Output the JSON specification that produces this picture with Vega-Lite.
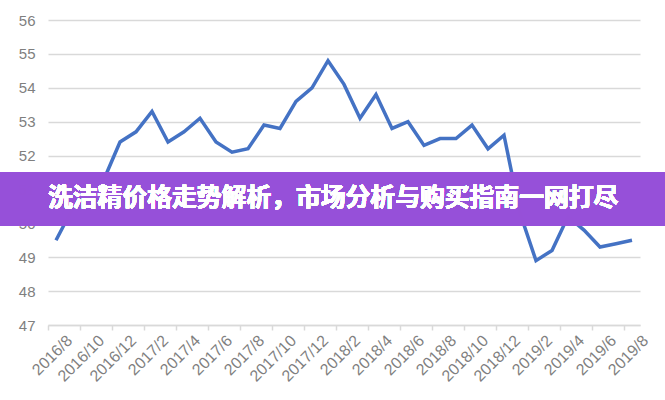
{
  "$schema": "https://vega.github.io/schema/vega-lite/v6.json",
  "width": 592,
  "height": 305,
  "autosize": "none",
  "padding": {"left": 48, "top": 20, "right": 25, "bottom": 75},
  "background": "white",
  "config": {"view": {"stroke": null}, "font": "Liberation Sans"},
  "data": {"values": [
    {"month": "2016/8", "price": 49.5},
    {"month": "2016/9", "price": 50.4},
    {"month": "2016/10", "price": 51.35},
    {"month": "2016/11", "price": 51.3},
    {"month": "2016/12", "price": 52.4},
    {"month": "2017/1", "price": 52.7},
    {"month": "2017/2", "price": 53.3},
    {"month": "2017/3", "price": 52.4},
    {"month": "2017/4", "price": 52.7},
    {"month": "2017/5", "price": 53.1},
    {"month": "2017/6", "price": 52.4},
    {"month": "2017/7", "price": 52.1},
    {"month": "2017/8", "price": 52.2},
    {"month": "2017/9", "price": 52.9},
    {"month": "2017/10", "price": 52.8},
    {"month": "2017/11", "price": 53.6},
    {"month": "2017/12", "price": 54.0},
    {"month": "2018/1", "price": 54.8},
    {"month": "2018/2", "price": 54.1},
    {"month": "2018/3", "price": 53.1},
    {"month": "2018/4", "price": 53.8},
    {"month": "2018/5", "price": 52.8},
    {"month": "2018/6", "price": 53.0},
    {"month": "2018/7", "price": 52.3},
    {"month": "2018/8", "price": 52.5},
    {"month": "2018/9", "price": 52.5},
    {"month": "2018/10", "price": 52.9},
    {"month": "2018/11", "price": 52.2},
    {"month": "2018/12", "price": 52.6},
    {"month": "2019/1", "price": 50.3},
    {"month": "2019/2", "price": 48.9},
    {"month": "2019/3", "price": 49.2},
    {"month": "2019/4", "price": 50.2},
    {"month": "2019/5", "price": 49.8},
    {"month": "2019/6", "price": 49.3},
    {"month": "2019/7", "price": 49.4},
    {"month": "2019/8", "price": 49.5}
  ]},
  "layer": [
    {
      "mark": {"type": "line", "color": "#4472c4", "strokeWidth": 3.5, "strokeJoin": "miter"},
      "encoding": {
        "x": {
          "field": "month", "type": "ordinal", "sort": null,
          "scale": {"type": "band", "paddingInner": 0, "paddingOuter": 0},
          "axis": {
            "title": null,
            "values": ["2016/8","2016/10","2016/12","2017/2","2017/4","2017/6","2017/8","2017/10","2017/12","2018/2","2018/4","2018/6","2018/8","2018/10","2018/12","2019/2","2019/4","2019/6","2019/8"],
            "bandPosition": 0,
            "labelOffset": 8,
            "labelAngle": -45,
            "labelAlign": "right",
            "labelBaseline": "top",
            "labelFontSize": 16,
            "labelColor": "#7f7f7f",
            "labelOverlap": false,
            "domainColor": "#d9d9d9",
            "domainWidth": 1.5,
            "tickColor": "#d9d9d9",
            "tickSize": 5,
            "tickWidth": 1.5,
            "labelPadding": 2,
            "grid": false
          }
        },
        "y": {
          "field": "price", "type": "quantitative",
          "scale": {"domain": [47, 56], "zero": false, "nice": false},
          "axis": {
            "title": null,
            "values": [47,48,49,50,51,52,53,54,55,56],
            "tickCount": 10,
            "labelOverlap": false,
            "domain": false,
            "ticks": false,
            "labelFontSize": 15,
            "labelColor": "#7f7f7f",
            "labelPadding": 13,
            "gridColor": "#d9d9d9",
            "gridWidth": 1.5
          }
        }
      }
    },
    {
      "mark": {"type": "rect", "color": "#9650d8", "opacity": 0.9, "xOffset": -48, "x2Offset": 25, "clip": false},
      "encoding": {
        "x": {"datum": "2016/8", "bandPosition": 0},
        "x2": {"datum": "2019/8", "bandPosition": 1},
        "y": {"datum": 51.5},
        "y2": {"datum": 49.92}
      }
    },
    {
      "mark": {"type": "text", "text": "洗洁精价格走势解析，市场分析与购买指南一网打尽", "color": "white", "font": "Noto Sans CJK SC", "fontWeight": "bold", "fontSize": 24.8, "align": "left", "baseline": "middle"},
      "encoding": {
        "x": {"datum": "2016/8", "bandPosition": 0},
        "y": {"datum": 50.72}
      }
    }
  ]
}
